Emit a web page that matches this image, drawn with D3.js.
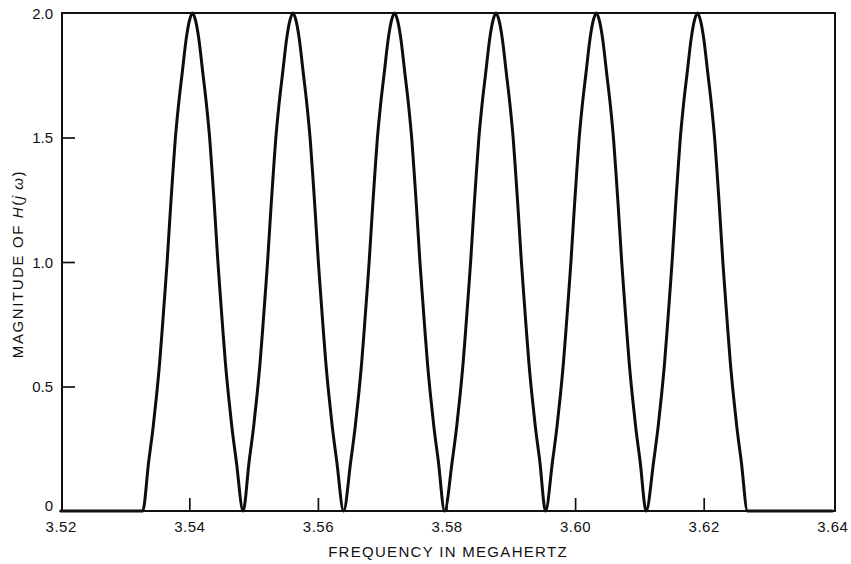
<!DOCTYPE html>
<html>
<head>
<meta charset="utf-8">
<script src="https://cdn.jsdelivr.net/npm/d3@7"></script>
<style>
  html, body { margin: 0; padding: 0; background: #fff; }
  svg { display: block; font-family: "Liberation Sans", Arial, Helvetica, sans-serif; }
</style>
</head>
<body>
<svg id="chart" width="851" height="564"></svg>
<script>
// Frequency response of a comb filter: |H(jω)| against frequency (MHz).

// Frequencies (MHz) where the response is zero: band edges and nulls.
const bandEdges = [3.52, 3.64];
const nulls = [3.53275, 3.54837, 3.56400, 3.57970, 3.59540, 3.61105, 3.62681];

// Magnitude levels at which each lobe is sampled (rising flank, peak, falling flank).
const levels = [
  0.20, 0.34, 0.47, 0.60, 0.74, 0.87, 1.00, 1.23, 1.36, 1.49, 1.63, 1.76, 1.90, 1.97,
  2.00,
  1.97, 1.90, 1.76, 1.63, 1.49, 1.36, 1.23, 1.00, 0.87, 0.74, 0.60, 0.47, 0.34, 0.20
];

// Frequencies (MHz) of each lobe at those levels.
const lobe1 = [
  3.53369, 3.53439, 3.53493, 3.53540, 3.53582, 3.53619, 3.53655, 3.53711, 3.53745, 3.53781, 3.53832, 3.53890, 3.53954, 3.54003,
  3.54050,
  3.54097, 3.54146, 3.54210, 3.54268, 3.54319, 3.54355, 3.54389, 3.54445, 3.54481, 3.54518, 3.54560, 3.54607, 3.54661, 3.54731
];
const lobe2 = [
  3.54931, 3.55001, 3.55055, 3.55102, 3.55144, 3.55181, 3.55217, 3.55273, 3.55307, 3.55343, 3.55394, 3.55452, 3.55516, 3.55565,
  3.55612,
  3.55659, 3.55708, 3.55772, 3.55830, 3.55881, 3.55917, 3.55951, 3.56007, 3.56043, 3.56080, 3.56122, 3.56169, 3.56223, 3.56293
];
const lobe3 = [
  3.56511, 3.56581, 3.56635, 3.56682, 3.56724, 3.56761, 3.56797, 3.56853, 3.56887, 3.56923, 3.56974, 3.57032, 3.57096, 3.57145,
  3.57192,
  3.57239, 3.57288, 3.57352, 3.57410, 3.57461, 3.57497, 3.57531, 3.57587, 3.57623, 3.57660, 3.57702, 3.57749, 3.57803, 3.57873
];
const lobe4 = [
  3.58089, 3.58159, 3.58213, 3.58260, 3.58302, 3.58339, 3.58375, 3.58431, 3.58465, 3.58501, 3.58552, 3.58610, 3.58674, 3.58723,
  3.58770,
  3.58817, 3.58866, 3.58930, 3.58988, 3.59039, 3.59075, 3.59109, 3.59165, 3.59201, 3.59238, 3.59280, 3.59327, 3.59381, 3.59451
];
const lobe5 = [
  3.59649, 3.59719, 3.59773, 3.59820, 3.59862, 3.59899, 3.59935, 3.59991, 3.60025, 3.60061, 3.60112, 3.60170, 3.60234, 3.60283,
  3.60330,
  3.60377, 3.60426, 3.60490, 3.60548, 3.60599, 3.60635, 3.60669, 3.60725, 3.60761, 3.60798, 3.60840, 3.60887, 3.60941, 3.61011
];
const lobe6 = [
  3.61222, 3.61292, 3.61346, 3.61393, 3.61435, 3.61472, 3.61508, 3.61564, 3.61598, 3.61634, 3.61685, 3.61743, 3.61807, 3.61856,
  3.61903,
  3.61950, 3.61999, 3.62063, 3.62121, 3.62172, 3.62208, 3.62242, 3.62298, 3.62334, 3.62371, 3.62413, 3.62460, 3.62514, 3.62584
];

const xTicks = [3.52, 3.54, 3.56, 3.58, 3.60, 3.62, 3.64];
const yTicks = [0, 0.5, 1.0, 1.5, 2.0];
const xTitle = "FREQUENCY IN MEGAHERTZ";

// Stitch band edges, nulls and lobes into one continuous trace.
const lobes = [lobe1, lobe2, lobe3, lobe4, lobe5, lobe6];
const trace = [[bandEdges[0], 0]];
lobes.forEach((lobe, i) => {
  trace.push([nulls[i], 0]);
  lobe.forEach((f, j) => trace.push([f, levels[j]]));
});
trace.push([nulls[nulls.length - 1], 0]);
trace.push([bandEdges[1], 0]);

const svg = d3.select("#chart");
const frame = { left: 62, top: 13, right: 835, bottom: 511 };

const x = d3.scaleLinear().domain([3.52, 3.64]).range([60.7, 832.3]);
const y = d3.scaleLinear().domain([0, 2]).range([511, 13]);

// Response curve (monotone spline keeps nulls and peaks from overshooting)
const line = d3.line()
  .x(d => x(d[0]))
  .y(d => y(d[1]))
  .curve(d3.curveMonotoneX);

svg.append("path")
  .datum(trace)
  .attr("d", line)
  .attr("fill", "none")
  .attr("stroke", "#0d0d0d")
  .attr("stroke-width", 3)
  .attr("stroke-linejoin", "round")
  .attr("stroke-linecap", "round");

// Inward tick marks
const xAxis = d3.axisBottom(x)
  .tickValues(xTicks)
  .tickSize(-13)
  .tickPadding(0)
  .tickFormat(d3.format(".2f"));
const gx = svg.append("g")
  .attr("transform", `translate(0,${frame.bottom})`)
  .call(xAxis);
gx.select(".domain").remove();
gx.selectAll(".tick line")
  .attr("stroke", "#111")
  .attr("stroke-width", 1.7)
  .filter(d => d === 3.52 || d === 3.64).remove();
gx.selectAll(".tick text")
  .attr("y", 20.5)
  .attr("dy", null)
  .attr("fill", "#111")
  .style("font-size", "15px")
  .style("letter-spacing", "0.5px");

const yAxis = d3.axisLeft(y)
  .tickValues(yTicks)
  .tickSize(-13)
  .tickPadding(9)
  .tickFormat(d => d === 0 ? "0" : d3.format(".1f")(d));
const gy = svg.append("g")
  .attr("transform", `translate(${frame.left},0)`)
  .call(yAxis);
gy.select(".domain").remove();
gy.selectAll(".tick line")
  .attr("stroke", "#111")
  .attr("stroke-width", 1.7)
  .filter(d => d === 0 || d === 2).remove();
gy.selectAll(".tick text")
  .attr("fill", "#111")
  .style("font-size", "15px")
  .attr("dy", d => d === 0 ? "-0.02em" : "0.34em");

// Plot frame
svg.append("rect")
  .attr("x", frame.left)
  .attr("y", frame.top)
  .attr("width", frame.right - frame.left)
  .attr("height", frame.bottom - frame.top)
  .attr("fill", "none")
  .attr("stroke", "#111")
  .attr("stroke-width", 2);

// Axis titles
svg.append("text")
  .attr("x", 448)
  .attr("y", 557)
  .attr("text-anchor", "middle")
  .attr("fill", "#111")
  .style("font-size", "15px")
  .style("letter-spacing", "1.3px")
  .text(xTitle);

const yTitle = svg.append("text")
  .attr("transform", "translate(22.5,264) rotate(-90)")
  .attr("text-anchor", "middle")
  .attr("fill", "#111")
  .style("font-size", "15px")
  .style("letter-spacing", "1.6px");
yTitle.append("tspan").text("MAGNITUDE OF ");
yTitle.append("tspan").style("font-style", "italic").text("H");
yTitle.append("tspan").text("(");
yTitle.append("tspan").style("font-style", "italic").text("j\u2009ω");
yTitle.append("tspan").text(")");
</script>
</body>
</html>
